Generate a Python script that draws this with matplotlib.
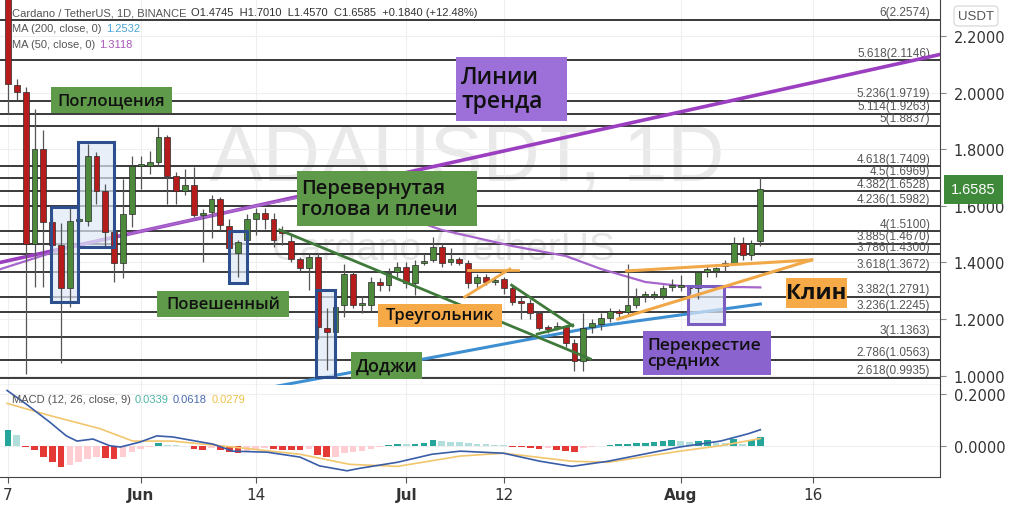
import numpy as np
import matplotlib.pyplot as plt
from matplotlib.patches import Rectangle
from matplotlib.ticker import FormatStrFormatter

# --- данные свечей (индекс = день от 17 мая) ---
opens = [2.33, 2.028, 2.004, 1.466, 1.80, 1.544, 1.463, 1.310, 1.545, 1.548,
         1.776, 1.651, 1.509, 1.399, 1.573, 1.740, 1.740, 1.754, 1.843, 1.705,
         1.651, 1.673, 1.569, 1.580, 1.626, 1.530, 1.434, 1.480, 1.552, 1.576,
         1.555, 1.505, 1.477, 1.413, 1.381, 1.420, 1.167, 1.153, 1.249, 1.359,
         1.249, 1.249, 1.331, 1.320, 1.367, 1.384, 1.327, 1.399, 1.409, 1.455,
         1.402, 1.413, 1.399, 1.327, 1.349, 1.331, 1.342, 1.310, 1.260, 1.256,
         1.221, 1.167, 1.167, 1.171, 1.117, 1.053, 1.171, 1.181, 1.203, 1.224,
         1.224, 1.249, 1.281, 1.281, 1.281, 1.313, 1.313, 1.310, 1.310, 1.367,
         1.370, 1.388, 1.399, 1.470, 1.427, 1.4745]
highs = [2.36, 2.05, 2.02, 1.943, 1.868, 1.56, 1.54, 1.594, 1.56, 1.819,
         1.79, 1.676, 1.52, 1.694, 1.776, 1.776, 1.794, 1.879, 1.85, 1.72,
         1.73, 1.737, 1.59, 1.64, 1.63, 1.555, 1.48, 1.57, 1.594, 1.594,
         1.576, 1.53, 1.50, 1.42, 1.43, 1.434, 1.24, 1.267, 1.395, 1.37,
         1.28, 1.348, 1.345, 1.38, 1.40, 1.40, 1.41, 1.43, 1.491, 1.47,
         1.45, 1.42, 1.41, 1.36, 1.36, 1.35, 1.35, 1.32, 1.278, 1.27,
         1.23, 1.18, 1.19, 1.18, 1.13, 1.221, 1.20, 1.22, 1.24, 1.235,
         1.395, 1.31, 1.30, 1.30, 1.32, 1.34, 1.356, 1.32, 1.37, 1.39,
         1.385, 1.41, 1.49, 1.49, 1.48, 1.7010]
lows = [1.925, 1.975, 1.007, 1.313, 1.313, 1.44, 1.046, 1.242, 1.54, 1.53,
        1.605, 1.455, 1.331, 1.345, 1.527, 1.658, 1.712, 1.74, 1.605, 1.605,
        1.64, 1.56, 1.40, 1.488, 1.516, 1.445, 1.349, 1.445, 1.498, 1.52,
        1.455, 1.46, 1.40, 1.37, 1.302, 1.13, 1.02, 1.15, 1.206, 1.24,
        1.22, 1.23, 1.30, 1.30, 1.35, 1.31, 1.285, 1.39, 1.40, 1.385,
        1.39, 1.39, 1.31, 1.31, 1.32, 1.32, 1.29, 1.25, 1.199, 1.20,
        1.16, 1.15, 1.16, 1.10, 1.018, 1.018, 1.15, 1.16, 1.19, 1.20,
        1.21, 1.24, 1.26, 1.27, 1.27, 1.30, 1.30, 1.29, 1.27, 1.35,
        1.35, 1.37, 1.39, 1.41, 1.41, 1.4570]
closes = [2.032, 2.004, 1.466, 1.80, 1.544, 1.463, 1.310, 1.548, 1.552, 1.776,
          1.651, 1.509, 1.399, 1.573, 1.740, 1.742, 1.754, 1.843, 1.705, 1.651,
          1.673, 1.569, 1.575, 1.626, 1.534, 1.452, 1.473, 1.555, 1.576, 1.555,
          1.480, 1.503, 1.413, 1.381, 1.420, 1.171, 1.153, 1.242, 1.359, 1.249,
          1.252, 1.331, 1.320, 1.363, 1.384, 1.327, 1.391, 1.406, 1.455, 1.399,
          1.413, 1.399, 1.327, 1.349, 1.331, 1.338, 1.310, 1.260, 1.258, 1.221,
          1.167, 1.166, 1.174, 1.117, 1.053, 1.167, 1.185, 1.203, 1.228, 1.222,
          1.249, 1.278, 1.281, 1.283, 1.310, 1.313, 1.314, 1.309, 1.367, 1.377,
          1.381, 1.399, 1.470, 1.427, 1.470, 1.6585]

# скользящие средние (узлы линий)
ma200_idx = [29, 47, 67, 85]
ma200_val = [0.955, 1.059, 1.176, 1.2532]
ma50_idx = [-1, 5, 10, 20, 28, 33, 38, 43, 49, 57, 63, 67, 72, 76, 80, 83, 85]
ma50_val = [1.375, 1.435, 1.475, 1.545, 1.600, 1.630, 1.625, 1.580, 1.515,
            1.458, 1.423, 1.377, 1.331, 1.317, 1.313, 1.313, 1.3118]

# MACD
hist = [0.059, 0.042, -0.005, -0.016, -0.042, -0.063, -0.082, -0.076, -0.063, -0.05,
        -0.042, -0.046, -0.052, -0.042, -0.024, -0.013, -0.004, 0.009, 0.004, 0.001,
        -0.001, -0.014, -0.016, -0.008, -0.018, -0.025, -0.03, -0.02, -0.012, -0.008,
        -0.014, -0.015, -0.016, -0.017, -0.012, -0.035, -0.045, -0.042, -0.03, -0.025,
        -0.02, -0.013, -0.005, 0.004, 0.008, 0.006, 0.008, 0.010, 0.022, 0.018,
        0.016, 0.013, 0.010, 0.008, 0.006, 0.004, 0.001, -0.003, -0.006, -0.010,
        -0.013, -0.010, -0.016, -0.022, -0.024, -0.010, -0.005, -0.002, 0.003, 0.005,
        0.007, 0.010, 0.012, 0.015, 0.018, 0.022, 0.018, 0.015, 0.020, 0.021,
        0.012, 0.010, 0.026, 0.008, 0.022, 0.034]
macd_idx = [-0.1, 2.1, 4.7, 6.6, 7.8, 9.6, 11.5, 12.7, 14.9, 16.8, 18.6, 23.2,
            25.4, 29.3, 33.0, 35.2, 38.3, 39.8, 44.0, 47.9, 51.1, 56.0, 60.1,
            63.7, 67.8, 75.9, 80.5, 83.6, 85.0]
macd_val = [0.214, 0.160, 0.092, 0.038, 0.018, 0.026, 0.0, -0.005, 0.014, 0.038,
            0.034, 0.006, -0.021, -0.025, -0.044, -0.078, -0.097, -0.087, -0.064,
            -0.033, -0.021, -0.029, -0.06, -0.08, -0.06, -0.005, 0.018, 0.046, 0.0618]
sig_idx = [-0.1, 4.7, 10.4, 14.1, 18.6, 25.4, 33.0, 38.6, 44.0, 51.1, 56.0,
           63.7, 67.8, 75.9, 80.5, 85.0]
sig_val = [0.164, 0.117, 0.066, 0.018, 0.018, -0.005, -0.033, -0.072, -0.08,
           -0.04, -0.029, -0.06, -0.064, -0.021, 0.0, 0.0279]

# уровни Фибоначчи
fib_levels = [6, 5.618, 5.236, 5.114, 5, 4.618, 4.5, 4.382, 4.236, 4,
              3.885, 3.786, 3.618, 3.382, 3.236, 3, 2.786, 2.618]
fib_prices = [2.2574, 2.1146, 1.9719, 1.9263, 1.8837, 1.7409, 1.6969, 1.6528,
              1.5982, 1.5100, 1.4670, 1.4300, 1.3672, 1.2791, 1.2245, 1.1363,
              1.0563, 0.9935]

tick_idx = [0, 15, 28, 45, 56, 76, 91]
tick_lbl = ['7', 'Jun', '14', 'Jul', '12', 'Aug', '16']

W, H = 1024, 510
fig = plt.figure(figsize=(W / 100, H / 100), dpi=100)
ax = fig.add_axes([0, (H - 386) / H, 940 / W, 386 / H])
axm = fig.add_axes([0, (H - 478) / H, 940 / W, 92 / H], sharex=ax)

XL = (-0.9, 105.3)
ax.set_xlim(*XL)
ax.set_ylim(0.967, 2.331)
axm.set_ylim(-0.121, 0.235)

for a in (ax, axm):
    for s in ('top', 'left'):
        a.spines[s].set_visible(False)
    a.spines['right'].set_color('#444444')
    a.spines['bottom'].set_color('#444444')
    a.yaxis.tick_right()
    a.tick_params(axis='y', colors='#888888', labelcolor='#333333', labelsize=10.5, length=4, pad=6)
    a.set_xticks(tick_idx)
    a.grid(True, color='#efefef', lw=0.8)
    a.set_axisbelow(True)

ax.tick_params(axis='x', length=0, labelbottom=False)
ax.set_yticks([1.0, 1.2, 1.4, 1.6, 1.8, 2.0, 2.2])
ax.yaxis.set_major_formatter(FormatStrFormatter('%.4f'))
axm.set_yticks([0.0, 0.2])
axm.yaxis.set_major_formatter(FormatStrFormatter('%.4f'))
axm.tick_params(axis='x', colors='#555555', labelcolor='#333333', labelsize=11, length=4)
axm.set_xticklabels(tick_lbl)
for t in axm.get_xticklabels():
    if t.get_text() in ('Jun', 'Jul', 'Aug'):
        t.set_fontweight('bold')

# водяной знак
ax.text(0.497, 0.585, 'ADAUSDT, 1D', transform=ax.transAxes, ha='center', va='center',
        fontsize=57, color='#e9e9e9', family='Liberation Sans', zorder=0)
ax.text(0.472, 0.352, 'Cardano / TetherUS', transform=ax.transAxes, ha='center', va='center',
        fontsize=28, color='#e6e6e6', family='Liberation Sans', zorder=0)

# фибо
for lvl, pr in zip(fib_levels, fib_prices):
    ax.axhline(pr, color='#3a3a3a', lw=1.4, zorder=2)
    ax.annotate('%g(%.4f)' % (lvl, pr), xy=(104.2, pr), xytext=(0, 1), textcoords='offset points',
                ha='right', va='bottom', fontsize=8.5, color='#555555', family='Liberation Sans', zorder=3)

# MA и трендовая линия
ax.plot([-0.9, 105.3], [1.40, 2.135], color='#9b3fc0', lw=2.6, zorder=3)
ax.plot(ma50_idx, ma50_val, color='#a866cc', lw=1.6, zorder=3)
ax.plot(ma200_idx, ma200_val, color='#3d8fd1', lw=2.2, zorder=3)

# выделения
hl_boxes = [(4.86, 1.260, 7.91, 1.595, '#2d4f8e'), (7.91, 1.455, 11.98, 1.826, '#2d4f8e'),
            (24.97, 1.328, 27.0, 1.511, '#2d4f8e'), (34.8, 0.995, 36.95, 1.303, '#2d4f8e'),
            (76.8, 1.183, 80.9, 1.317, '#7b5cc0')]
for x0, y0, x1, y1, ec in hl_boxes:
    ax.add_patch(Rectangle((x0, y0), x1 - x0, y1 - y0, fc='#dfe9f7', ec='none', alpha=0.7, zorder=3.5))

# свечи
idx = np.arange(len(closes))
o, h, l, c = map(np.array, (opens, highs, lows, closes))
up = c >= o
ax.vlines(idx, l, h, color='#555555', lw=0.9, zorder=4)
body = np.maximum(np.abs(c - o), 0.007)
ax.bar(idx, body, bottom=np.minimum(o, c), width=0.66,
       color=np.where(up, '#4e8a3c', '#b71c1c'), edgecolor='#2a2a2a', linewidth=0.5, zorder=5)

for x0, y0, x1, y1, ec in hl_boxes:
    ax.add_patch(Rectangle((x0, y0), x1 - x0, y1 - y0, fc='none', ec=ec, lw=2.2, zorder=6))

# фигуры
g = '#3f7a3a'
ax.plot([30.7, 65.8], [1.515, 1.059], color=g, lw=2, zorder=6)
ax.plot([56.9, 63.8], [1.320, 1.176], color=g, lw=2, zorder=6)
ax.plot([59.8, 63.8], [1.147, 1.179], color=g, lw=2, zorder=6)
og = '#f0a848'
ax.plot([52.0, 57.6], [1.373, 1.373], color=og, lw=2, zorder=6)
ax.plot([51.6, 56.7], [1.278, 1.377], color=og, lw=2, zorder=6)
ax.plot([69.9, 90.8], [1.370, 1.409], color=og, lw=2.2, zorder=6)
ax.plot([68.9, 90.8], [1.200, 1.409], color=og, lw=2.2, zorder=6)

# подписи-плашки
def plate(x0, y0, x1, y1, fc, txt, size, left=None, weight=600):
    fig.patches.append(Rectangle((x0 / W, 1 - y1 / H), (x1 - x0) / W, (y1 - y0) / H,
                                 transform=fig.transFigure, fc=fc, ec='none', zorder=5))
    if left is None:
        fig.text((x0 + x1) / 2 / W, 1 - (y0 + y1) / 2 / H, txt, ha='center', va='center',
                 fontsize=size, color='#111111', family='Open Sans', weight=weight, zorder=6)
    else:
        fig.text(left / W, 1 - (y0 + y1) / 2 / H, txt, ha='left', va='center', linespacing=1.05,
                 fontsize=size, color='#111111', family='Open Sans', weight=weight, zorder=6)

gr, orn = '#5f9a4b', '#f5a947'
plate(51, 88, 172, 114, gr, 'Поглощения', 12)
plate(157, 292, 289, 318, gr, 'Повешенный', 12)
plate(297, 172, 477, 227, gr, 'Перевернутая\nголова и плечи', 14.5, left=301)
plate(378, 305, 502, 328, orn, 'Треугольник', 12)
plate(351, 353, 422, 380, gr, 'Доджи', 13)
plate(456, 58, 567, 122, '#9c6fd9', 'Линии\nтренда', 16.5, left=461)
plate(786, 279, 847, 309, orn, 'Клин', 16, weight='bold')
plate(643, 332, 771, 376, '#8a63cf', 'Перекрестие\nсредних', 12.5, left=647)

# MACD
hcol = []
for i, v in enumerate(hist):
    prev = hist[i - 1] if i > 0 else v
    if v >= 0:
        hcol.append('#26a69a' if v >= prev else '#b2dfdb')
    else:
        hcol.append('#e53935' if v <= prev else '#ffcdd2')
axm.bar(idx, hist, width=0.75, color=hcol, zorder=2)
axm.plot(sig_idx, sig_val, color='#f2c66d', lw=1.2, zorder=3)
axm.plot(macd_idx, macd_val, color='#3a5da8', lw=1.2, zorder=4)

# заголовки
hf = dict(fontsize=8, family='Liberation Sans')
def chain(a, prev, txt, color):
    return a.annotate(txt, xy=(1, 0), xycoords=prev, xytext=(3, 0), textcoords='offset points',
                      ha='left', va='bottom', color=color, zorder=8, **hf)

t = ax.text(12 / 940, 1 - 13 / 386, 'Cardano / TetherUS, 1D, BINANCE', transform=ax.transAxes,
            ha='left', va='center', color='#555555', **hf)
chain(ax, t, 'O1.4745  H1.7010  L1.4570  C1.6585  +0.1840 (+12.48%)', '#333333')
t = ax.text(12 / 940, 1 - 29 / 386, 'MA (200, close, 0)', transform=ax.transAxes,
            ha='left', va='center', color='#555555', **hf)
chain(ax, t, '1.2532', '#4da3d4')
t = ax.text(12 / 940, 1 - 45 / 386, 'MA (50, close, 0)', transform=ax.transAxes,
            ha='left', va='center', color='#555555', **hf)
chain(ax, t, '1.3118', '#a757b8')
t = axm.text(12 / 940, 1 - 14 / 92, 'MACD (12, 26, close, 9)', transform=axm.transAxes,
             ha='left', va='center', color='#555555', zorder=8, **hf)
t = chain(axm, t, '0.0339', '#4fb3a5')
t = chain(axm, t, '0.0618', '#4a6ab0')
chain(axm, t, '0.0279', '#eec24a')

# ценник и валюта
ax.annotate('1.6585', xy=(1, closes[-1]), xycoords=('axes fraction', 'data'), xytext=(8, 0),
            textcoords='offset points', ha='left', va='center', color='white', fontsize=10.5,
            family='Liberation Sans', annotation_clip=False,
            bbox=dict(boxstyle='square,pad=0.5', fc='#3f8a3a', ec='none'))
fig.text(976 / W, 1 - 17 / H, 'USDT', ha='center', va='center', fontsize=9.5, color='#555555',
         family='Liberation Sans',
         bbox=dict(boxstyle='round,pad=0.3', fc='white', ec='#dddddd'))

fig.savefig('out.png', dpi=100)
